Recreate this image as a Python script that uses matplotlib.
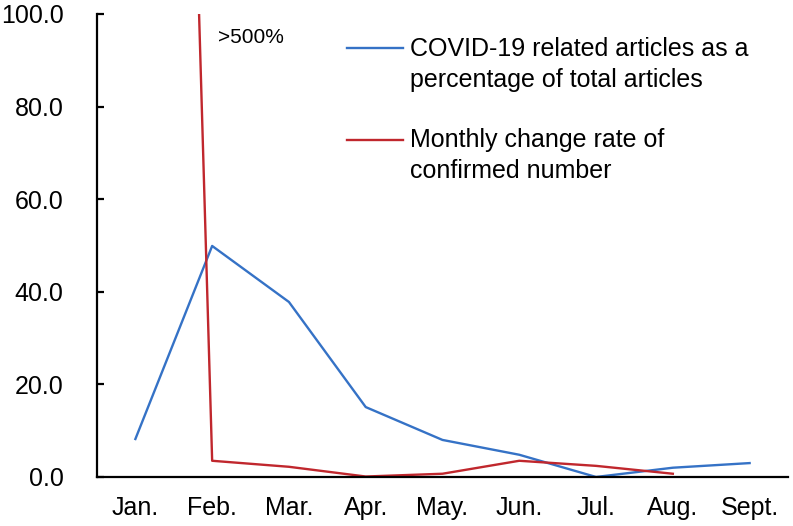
import matplotlib.pyplot as plt

plt.rcParams['font.family'] = ['Liberation Sans', 'DejaVu Sans']

months = ['Jan.', 'Feb.', 'Mar.', 'Apr.', 'May.', 'Jun.', 'Jul.', 'Aug.', 'Sept.']
covid_share = [8.2, 49.9, 37.8, 15.1, 8.0, 4.8, 0.0, 2.0, 3.0]
change_rate = [570, 3.5, 2.2, 0.1, 0.7, 3.5, 2.4, 0.7]
labels = ['COVID-19 related articles as a\npercentage of total articles',
          'Monthly change rate of\nconfirmed number']
colors = ['#3572C6', '#C0272D']

fig = plt.figure(figsize=(7.93, 5.26), dpi=100)
ax = fig.add_axes([0.1223, 0.0932, 0.8714, 0.8802])

x1 = list(range(len(covid_share)))
x2 = list(range(len(change_rate)))
ax.plot(x1, covid_share, color=colors[0], lw=1.7)
ax.plot(x2, change_rate, color=colors[1], lw=1.7)

ax.set_xlim(-0.5, len(months) - 0.5)
ax.set_ylim(0, 100)
ax.set_xticks(x1)
ax.set_xticklabels(months)
ax.set_yticks([0, 20, 40, 60, 80, 100])
ax.set_yticklabels(['%.1f' % v for v in [0, 20, 40, 60, 80, 100]])

for s in ['top', 'right']:
    ax.spines[s].set_visible(False)
ax.spines['left'].set_linewidth(1.6)
ax.spines['bottom'].set_linewidth(1.6)
ax.tick_params(axis='y', direction='in', length=5, width=1.6, labelsize=18, pad=24)
ax.tick_params(axis='x', length=0, labelsize=18, pad=14)

ax.text(1.08, 95, '>500%', fontsize=15, va='center')

# legend: handle lined up with the first text line
for hy, by, lab, c in zip([0.9266, 0.728], [0.8423, 0.6458], labels, colors):
    ax.plot([0.362, 0.443], [hy, hy], color=c, lw=1.7,
            transform=ax.transAxes, clip_on=False)
    ax.text(0.453, by, lab, fontsize=18, va='baseline', ha='left',
            linespacing=1.38, transform=ax.transAxes)

fig.savefig('out.png', dpi=100)
